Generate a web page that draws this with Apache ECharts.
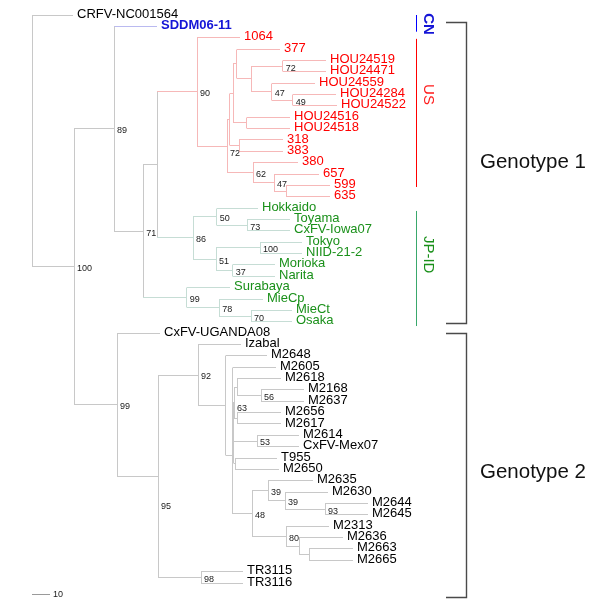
<!DOCTYPE html>
<html><head><meta charset="utf-8">
<script src="https://cdn.jsdelivr.net/npm/echarts@6/dist/echarts.min.js"></script>
<style>html,body{margin:0;padding:0;background:#fff}#c{width:600px;height:615px}</style>
</head><body><div id="c"></div>
<script>
// ---- leaves (top to bottom order) ----
const leafNames = ['CRFV-NC001564','SDDM06-11','1064','377','HOU24519','HOU24471','HOU24559','HOU24284','HOU24522','HOU24516','HOU24518','318','383','380','657','599','635','Hokkaido','Toyama','CxFV-Iowa07','Tokyo','NIID-21-2','Morioka','Narita','Surabaya','MieCp','MieCt','Osaka','CxFV-UGANDA08','Izabal','M2648','M2605','M2618','M2168','M2637','M2656','M2617','M2614','CxFV-Mex07','T955','M2650','M2635','M2630','M2644','M2645','M2313','M2636','M2663','M2665','TR3115','TR3116'];
const leafParent = ['root','n89','n90','V','n72b','n72b','n47a','n49','n49','W','W','S','S','n62','n47b','p599','p599','n50','n73','n73','n100j','n100j','n37','n37','n99j','n78','n70','n70','n99','n92','X','Y1','P','n56','n56','Q','Q','n53','n53','R','R','n39a','n39b','n93','n93','n80','nA','nB','nB','n98','n98'];
const leafDepth = [41,125,208,248,294,294,283,304,305,258,258,251,251,266,287,298,298,226,258,258,270,270,243,243,198,231,260,260,128,209,235,244,249,272,272,249,249,267,267,245,247,281,296,336,336,297,311,321,321,211,211];
const leafRegion = ['','CN','US','US','US','US','US','US','US','US','US','US','US','US','US','US','US','JP','JP','JP','JP','JP','JP','JP','JP','JP','JP','JP','','','','','','','','','','','','','','','','','','','','','','',''];

// ---- internal nodes ----
const nodeIds = ['root','n100','n89','n71','j0','n90','n72','z2','z','V','T','n72b','n47a','n49','W','S','n62','n47b','p599','n86','n50','n73','n51','n100j','n37','n99j','n78','n70','n99','n95','n92','X','Y','Y1','Y2','n63','P','n56','Q','Y3','n53','R','n48','n39a','n39b','n93','n80','nA','nB','n98'];
const nodeParent = [null,'root','n100','n89','n71','j0','n90','n72','z2','z','V','T','T','n47a','z','z2','n72','n62','n47b','j0','n86','n50','n86','n51','n51','n71','n99j','n78','n100','n99','n95','n92','X','Y','Y1','Y2','n63','P','n63','Y2','Y3','Y3','Y','n48','n39a','n39b','n48','n80','nA','n95'];
const nodeDepth = [0,42,82,111.3,125,165,195,197.5,201.3,204.7,219,250.7,239.7,260.7,214.7,207,221,242,254,161,184.7,215.3,184,228,200.7,154.7,187.3,219,85,126,166,193.6,200,200.5,201,202,205,229,205,201.5,225,203,220,236,253,293,254,267,277,169];
const nodeSupport = ['','100','89','71','','90','72','','','','','72','47','49','','','62','47','','86','50','73','51','100','37','99','78','70','99','95','92','','','','','63','','56','','','53','','48','39','39','93','80','','','98'];

// ---- annotations (spans in leaf-index units) ----
const regionNames = ['CN','US','JP-ID'];
const regionFrom = [0, 2.1, 17.25];
const regionTo = [1.47, 15.14, 27.38];
const regionLabelAt = [0.8, 7.0, 21.1];

const genotypeNames = ['Genotype 1','Genotype 2'];
const genotypeFrom = [0.68, 28.0];
const genotypeTo = [27.2, 51.3];
const genotypeLabelAt = [13.0, 40.3];

const scaleBarLength = 18;
const scaleBarLabel = '10';
const scaleBarAt = 51.0;

// ---- build tree ----
const idx = {};
nodeIds.forEach((id, i) => idx[id] = i);
const N = nodeIds.length;
const kids = nodeIds.map(() => []);
const ys = new Array(N).fill(null);
const regs = nodeIds.map(() => new Set());
leafNames.forEach((n, i) => { kids[idx[leafParent[i]]].push({leaf: true, i}); });
nodeParent.forEach((p, i) => { if (p) kids[idx[p]].push({leaf: false, i}); });
const vTop = new Array(N), vBot = new Array(N);
function yOf(i) {
  if (ys[i] !== null) return ys[i];
  let mn = Infinity, mx = -Infinity;
  kids[i].forEach(k => {
    let y;
    if (k.leaf) { y = k.i; regs[i].add(leafRegion[k.i]); }
    else { y = yOf(k.i); regs[k.i].forEach(r => regs[i].add(r)); }
    mn = Math.min(mn, y); mx = Math.max(mx, y);
  });
  vTop[i] = mn; vBot[i] = mx;
  ys[i] = (mn + mx) / 2;
  return ys[i];
}
yOf(idx.root);
const nodeRegion = regs.map(s => s.size === 1 ? [...s][0] : '');

const branchColor = {'': '#c8c8c8', CN: '#babaf0', US: '#f6b8b8', JP: '#c6ddd5'};
const labelColor = {'': '#000000', CN: '#1414d6', US: '#ff0000', JP: '#1a901a'};
const regionLineColor = {'CN': '#0000ff', 'US': '#ff0000', 'JP-ID': '#3aa86c'};
const regionTextColor = {'CN': '#1414d6', 'US': '#ff1a1a', 'JP-ID': '#1a901a'};
const supportNudge = {n95: 28, n72: 5, n63: 4};

// data rows: [depth, y, parentDepth, vTop, vBot, isLeaf, index]
const treeData = [];
leafNames.forEach((n, i) => {
  treeData.push([leafDepth[i], i, nodeDepth[idx[leafParent[i]]], i, i, 1, i]);
});
nodeIds.forEach((id, i) => {
  const p = nodeParent[i];
  treeData.push([nodeDepth[i], ys[i], p ? nodeDepth[idx[p]] : nodeDepth[i], vTop[i], vBot[i], 0, i]);
});

const crisp = v => Math.round(v - 0.5) + 0.5;
const FONT = '"Liberation Sans", Arial, Helvetica, sans-serif';

function renderTree(params, api) {
  const d = api.value(0), y = api.value(1), pd = api.value(2);
  const isLeaf = api.value(5) === 1, k = api.value(6);
  const p1 = api.coord([pd, y]), p2 = api.coord([d, y]);
  const reg = isLeaf ? leafRegion[k] : nodeRegion[k];
  const col = branchColor[reg];
  const children = [];
  const yy = crisp(p2[1]);
  if (pd !== d) {
    children.push({type: 'line', shape: {x1: Math.round(p1[0]), y1: yy, x2: Math.round(p2[0]), y2: yy},
      style: {stroke: col, lineWidth: 1}});
  }
  if (isLeaf) {
    const cn = reg === 'CN';
    children.push({type: 'text', style: {text: leafNames[k], x: p2[0] + 4, y: p2[1] - 1,
      fill: labelColor[reg], fontSize: 13, fontFamily: FONT, fontWeight: cn ? 'bold' : 'normal',
      align: 'left', verticalAlign: 'middle'}});
  } else {
    const t = api.coord([d, api.value(3)]), b = api.coord([d, api.value(4)]);
    const xx = crisp(t[0]);
    children.push({type: 'line', shape: {x1: xx, y1: crisp(t[1]), x2: xx, y2: crisp(b[1])},
      style: {stroke: col, lineWidth: 1}});
    if (nodeSupport[k]) {
      children.push({type: 'text', style: {text: nodeSupport[k], x: p2[0] + 3,
        y: p2[1] + 2 + (supportNudge[nodeIds[k]] || 0),
        fill: '#1a1a1a', fontSize: 9, fontFamily: FONT, align: 'left', verticalAlign: 'middle'}});
    }
  }
  return {type: 'group', children};
}

function renderRegion(params, api) {
  const i = api.value(3);
  const name = regionNames[i];
  const a = api.coord([0, api.value(0)]), b = api.coord([0, api.value(1)]), c = api.coord([0, api.value(2)]);
  return {type: 'group', children: [
    {type: 'line', shape: {x1: 416.5, y1: a[1], x2: 416.5, y2: b[1]}, style: {stroke: regionLineColor[name], lineWidth: 1}},
    {type: 'text', x: 428.5, y: c[1], rotation: -Math.PI / 2,
      style: {text: name, x: 0, y: 0, fill: regionTextColor[name], fontSize: 15, fontFamily: FONT,
        fontWeight: name === 'CN' ? 'bold' : 'normal', align: 'center', verticalAlign: 'middle'}}
  ]};
}

function renderGenotype(params, api) {
  const i = api.value(3);
  const a = api.coord([0, api.value(0)]), b = api.coord([0, api.value(1)]), c = api.coord([0, api.value(2)]);
  const y1 = crisp(a[1]), y2 = crisp(b[1]);
  return {type: 'group', children: [
    {type: 'polyline', shape: {points: [[446, y1], [466.5, y1], [466.5, y2], [446, y2]]},
      style: {stroke: '#4a4a4a', lineWidth: 1.4, fill: null}},
    {type: 'text', style: {text: genotypeNames[i], x: 480, y: c[1], fill: '#111', fontSize: 20.5,
      fontFamily: FONT, align: 'left', verticalAlign: 'middle'}}
  ]};
}

function renderScale(params, api) {
  const a = api.coord([0, api.value(1)]), b = api.coord([api.value(0), api.value(1)]);
  const yy = crisp(a[1]);
  return {type: 'group', children: [
    {type: 'line', shape: {x1: Math.round(a[0]), y1: yy, x2: Math.round(b[0]), y2: yy}, style: {stroke: '#9a9a9a', lineWidth: 1}},
    {type: 'text', style: {text: scaleBarLabel, x: b[0] + 3, y: a[1] + 0.5, fill: '#1a1a1a', fontSize: 9,
      fontFamily: FONT, align: 'left', verticalAlign: 'middle'}}
  ]};
}

const chart = echarts.init(document.getElementById('c'), null, {renderer: 'canvas'});
chart.setOption({
  animation: false,
  backgroundColor: '#ffffff',
  grid: {left: 0, right: 0, top: 15, bottom: 32},
  xAxis: {type: 'value', min: -32, max: 568, show: false},
  yAxis: {type: 'value', min: 0, max: 50, inverse: true, show: false},
  series: [
    {type: 'custom', renderItem: renderTree, data: treeData, clip: false, silent: true,
      encode: {x: 0, y: 1}},
    {type: 'custom', renderItem: renderRegion, clip: false, silent: true, encode: {x: 3, y: 0},
      data: regionNames.map((n, i) => [regionFrom[i], regionTo[i], regionLabelAt[i], i])},
    {type: 'custom', renderItem: renderGenotype, clip: false, silent: true, encode: {x: 3, y: 0},
      data: genotypeNames.map((n, i) => [genotypeFrom[i], genotypeTo[i], genotypeLabelAt[i], i])},
    {type: 'custom', renderItem: renderScale, clip: false, silent: true, encode: {x: 0, y: 1},
      data: [[scaleBarLength, scaleBarAt]]}
  ]
});
</script>
</body></html>
